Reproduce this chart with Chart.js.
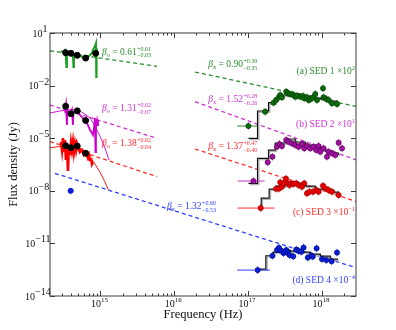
<!DOCTYPE html>
<html lang="en">
<head>
<meta charset="UTF-8">
<title>GRB SEDs</title>
<script src="https://cdn.jsdelivr.net/npm/chart.js"></script>
<style>
  body { margin: 0; background: #fff; }
  #chart { display: block; }
</style>
</head>
<body>
<canvas id="chart" width="396" height="330"></canvas>
<script>
// every value is log10(frequency / Hz) or log10(flux density / Jy)

// SED 1 (x 10^2, green)
const sed1SpecNu = [14.464, 14.491, 14.518, 14.532, 14.539, 14.545, 14.573, 14.600, 14.627, 14.634, 14.640, 14.681, 14.722, 14.763, 14.803, 14.830, 14.858, 14.885, 14.898, 14.912, 14.925, 14.939, 14.943, 14.947, 14.953];
const sed1SpecF = [-0.03, -0.08, 0.03, -0.43, -0.94, -0.08, -0.14, -0.08, -0.20, -0.94, -0.20, -0.26, -0.31, -0.37, -0.43, -0.37, -0.26, -0.14, 0.03, 0.14, 0.26, 0.43, -1.51, 0.14, -0.08];
const sed1PhotNu = [14.528, 14.600, 14.685, 14.799, 14.935];
const sed1PhotF = [-0.12, -0.16, -0.27, -0.43, -0.16];
const sed1OptFitNu = [14.315, 15.767];
const sed1OptFitF = [-0.01, -0.90];
const sed1XFitNu = [16.282, 18.46];
const sed1XFitF = [-1.225, -3.185];
const sed1XrayNu = [17.005, 17.232, 17.345, 17.381, 17.422, 17.436, 17.459, 17.517, 17.535, 17.562, 17.594, 17.616, 17.639, 17.662, 17.707, 17.744, 17.761, 17.798, 17.820, 17.843, 17.874, 17.911, 17.934, 18.015, 18.023, 18.060, 18.091, 18.137, 18.205];
const sed1XrayF = [-4.306, -3.490, -2.977, -2.822, -2.634, -2.537, -2.668, -2.349, -2.440, -2.480, -2.497, -2.537, -2.634, -2.577, -2.634, -2.594, -2.725, -2.668, -2.822, -2.782, -2.691, -2.480, -2.822, -2.155, -2.668, -2.765, -2.822, -3.011, -3.051];
const sed1XrayBinNu = [16.852, 17.124];
const sed1ModelNu = [17.005, 17.128, 17.277, 17.368, 17.463, 17.571, 17.707, 17.843, 17.979, 18.114, 18.209];
const sed1ModelF = [-5.007, -3.450, -2.976, -2.708, -2.537, -2.480, -2.594, -2.708, -2.765, -2.879, -3.050];

// SED 2 (x 10^1, magenta)
const sed2SpecNu = [14.505, 14.518, 14.532, 14.545, 14.552, 14.573, 14.600, 14.613, 14.627, 14.634, 14.654, 14.695, 14.722, 14.749, 14.776, 14.803, 14.830, 14.858, 14.885, 14.898, 14.912, 14.925, 14.932, 14.939, 14.953, 14.966];
const sed2SpecF = [-3.165, -3.393, -3.051, -4.249, -3.393, -3.564, -3.564, -3.393, -4.249, -3.507, -3.450, -3.507, -3.678, -3.792, -3.963, -4.077, -4.249, -4.534, -4.705, -4.819, -4.420, -3.849, -5.789, -4.249, -3.963, -4.306];
const sed2PhotNu = [14.528, 14.600, 14.685, 14.799];
const sed2PhotF = [-3.18, -3.60, -3.44, -3.99];
const sed2HostNu = [14.315, 14.450, 14.586, 14.695, 14.790, 14.858, 14.925, 14.993, 15.061, 15.115];
const sed2HostF = [-3.564, -3.450, -3.364, -3.393, -3.621, -3.849, -4.306, -4.877, -5.561, -6.245];
const sed2OptFitNu = [14.315, 15.767];
const sed2OptFitF = [-3.107, -5.009];
const sed2XFitNu = [16.282, 18.46];
const sed2XFitF = [-2.919, -6.23];
const sed2XrayNu = [17.073, 17.266, 17.330, 17.391, 17.426, 17.459, 17.517, 17.548, 17.594, 17.639, 17.684, 17.730, 17.761, 17.798, 17.843, 17.888, 17.924, 17.955, 17.978, 18.023, 18.069, 18.091, 18.137, 18.182, 18.227, 18.273];
const sed2XrayF = [-7.443, -6.371, -6.057, -5.487, -5.332, -5.447, -5.104, -5.201, -5.293, -5.389, -5.487, -5.332, -5.578, -5.447, -5.578, -5.487, -5.675, -5.447, -5.772, -5.578, -6.057, -5.772, -5.864, -5.960, -5.258, -5.578];
const sed2XrayBinNu = [16.862, 17.223];
const sed2ModelNu = [17.005, 17.128, 17.277, 17.368, 17.504, 17.639, 17.775, 17.911, 18.046, 18.155, 18.223];
const sed2ModelF = [-7.575, -6.148, -5.675, -5.275, -5.047, -5.218, -5.389, -5.561, -5.732, -5.846, -5.960];

// SED 3 (x 10^-1, red)
const sed3SpecNu = [14.464, 14.478, 14.491, 14.505, 14.518, 14.532, 14.545, 14.559, 14.573, 14.586, 14.600, 14.613, 14.627, 14.640, 14.654, 14.668, 14.681, 14.708, 14.722, 14.749, 14.776, 14.803, 14.830, 14.844, 14.858, 14.871, 14.885, 14.898];
const sed3SpecF = [-5.218, -5.675, -4.990, -5.789, -5.104, -6.245, -5.275, -6.873, -5.389, -5.960, -5.275, -5.675, -5.218, -5.789, -5.332, -5.675, -5.275, -5.561, -5.789, -5.675, -5.960, -5.846, -6.131, -5.960, -6.245, -6.131, -6.473, -6.359];
const sed3PhotNu = [14.528, 14.600, 14.685, 14.799];
const sed3PhotF = [-5.43, -5.54, -5.45, -5.86];
const sed3HostNu = [14.315, 14.450, 14.586, 14.695, 14.790, 14.858, 14.925, 14.993, 15.061, 15.109];
const sed3HostF = [-5.544, -5.475, -5.447, -5.504, -5.732, -6.074, -6.473, -6.930, -7.500, -7.957];
const sed3OptFitNu = [14.315, 15.767];
const sed3OptFitF = [-5.189, -7.193];
const sed3XFitNu = [16.282, 18.46];
const sed3XFitF = [-5.617, -8.601];
const sed3XrayNu = [17.171, 17.379, 17.417, 17.436, 17.459, 17.481, 17.513, 17.535, 17.562, 17.585, 17.616, 17.653, 17.684, 17.730, 17.761, 17.798, 17.833, 17.879, 17.924, 17.955, 18.015, 18.046, 18.091, 18.137, 18.227];
const sed3XrayF = [-8.984, -7.883, -7.877, -7.518, -7.769, -7.575, -7.306, -7.575, -7.672, -7.575, -7.615, -7.575, -7.672, -7.769, -7.575, -8.145, -8.054, -8.054, -7.957, -8.054, -7.712, -7.860, -7.957, -8.054, -8.242];
const sed3XrayBinNu = [16.859, 17.357];
const sed3ModelNu = [17.137, 17.178, 17.286, 17.381, 17.504, 17.639, 17.775, 17.911, 18.046, 18.155, 18.223];
const sed3ModelF = [-8.984, -8.413, -7.900, -7.729, -7.500, -7.557, -7.729, -7.900, -7.957, -8.071, -8.242];

// SED 4 (x 10^-4, blue)
const sed4PhotNu = [14.596];
const sed4PhotF = [-8.0];
const sed4XFitNu = [14.383, 18.46];
const sed4XFitF = [-7.003, -12.385];
const sed4XrayNu = [17.130, 17.330, 17.391, 17.418, 17.446, 17.481, 17.517, 17.541, 17.562, 17.612, 17.653, 17.684, 17.721, 17.752, 17.809, 17.857, 17.877, 17.928, 18.001, 18.060, 18.132, 18.205];
const sed4XrayF = [-12.521, -11.705, -11.380, -11.255, -11.408, -11.551, -11.380, -11.551, -11.665, -11.739, -11.357, -11.426, -11.477, -11.237, -11.808, -11.694, -11.751, -11.283, -11.893, -11.950, -12.019, -11.523];
const sed4XrayBinNu = [16.852, 17.296];
const sed4ModelNu = [17.137, 17.241, 17.341, 17.436, 17.571, 17.707, 17.843, 17.979, 18.114, 18.209];
const sed4ModelF = [-12.464, -11.705, -11.494, -11.380, -11.437, -11.494, -11.608, -11.722, -11.893, -11.950];

// axis ticks (exponents)
const xTickExps = [15, 16, 17, 18];
const yTickExps = [1, -2, -5, -8, -11, -14];

const serif = '"Liberation Serif", "DejaVu Serif", serif';

const pts = (lx, ly) => lx.map((v, i) => ({ x: Math.pow(10, v), y: Math.pow(10, ly[i]) }));

function dashedLine(lx, ly, color) {
    return { data: pts(lx, ly), showLine: true, borderColor: color, borderWidth: 1.3, borderDash: [4, 3], pointRadius: 0, order: 7 };
}
function spectrum(lx, ly, color, width) {
    return { data: pts(lx, ly), showLine: true, borderColor: color, borderWidth: width, pointRadius: 0, order: 6 };
}
function hostModel(lx, ly, color) {
    return { data: pts(lx, ly), showLine: true, borderColor: color, borderWidth: 0.9, pointRadius: 0, order: 5 };
}
function stepModel(lx, ly) {
    return [
        { data: pts(lx, ly), showLine: true, stepped: true, borderColor: '#b5b5b5', borderWidth: 1.4, pointRadius: 0, order: 4, shift: true },
        { data: pts(lx, ly), showLine: true, stepped: true, borderColor: '#111', borderWidth: 1.2, pointRadius: 0, order: 3 }
    ];
}
function binBar(lx, ly, color) {
    return { data: pts(lx, [ly, ly]), showLine: true, borderColor: color, borderWidth: 1, pointRadius: 0, order: 2 };
}
function xray(lx, ly, fill, edge, err) {
    return { data: pts(lx, ly), backgroundColor: fill, borderColor: edge, borderWidth: 0.7, pointRadius: 2.6, errDex: 0.22, errColor: err, order: 1 };
}
function photDots(lx, ly, color) {
    return { data: pts(lx, ly), backgroundColor: color, borderColor: color, pointRadius: 3, order: 0 };
}

const G = { line: '#2a8c2a', spec: '#1e9e1e', fill: '#0b6b0b', edge: '#053d05' };
const M = { line: '#d030d0', spec: '#cc00cc', fill: '#a010a0', edge: '#560056' };
const R = { line: '#ff2a2a', spec: '#ff0000', fill: '#ee0000', edge: '#900000' };
const B = { line: '#2f3fff', spec: '#0000ff', fill: '#0a1ed8', edge: '#000a80' };

const datasets = [
    dashedLine(sed1OptFitNu, sed1OptFitF, G.line),
    dashedLine(sed1XFitNu, sed1XFitF, G.line),
    dashedLine(sed2OptFitNu, sed2OptFitF, M.line),
    dashedLine(sed2XFitNu, sed2XFitF, M.line),
    dashedLine(sed3OptFitNu, sed3OptFitF, R.line),
    dashedLine(sed3XFitNu, sed3XFitF, R.line),
    dashedLine(sed4XFitNu, sed4XFitF, B.line),
    spectrum(sed1SpecNu, sed1SpecF, G.spec, 2),
    spectrum(sed2SpecNu, sed2SpecF, M.spec, 1.8),
    spectrum(sed3SpecNu, sed3SpecF, R.spec, 2.6),
    hostModel(sed2HostNu, sed2HostF, M.spec),
    hostModel(sed3HostNu, sed3HostF, R.spec),
    ...stepModel(sed1ModelNu, sed1ModelF),
    ...stepModel(sed2ModelNu, sed2ModelF),
    ...stepModel(sed3ModelNu, sed3ModelF),
    ...stepModel(sed4ModelNu, sed4ModelF),
    binBar(sed1XrayBinNu, sed1XrayF[0], G.line),
    binBar(sed2XrayBinNu, sed2XrayF[0], M.line),
    binBar(sed3XrayBinNu, sed3XrayF[0], R.line),
    binBar(sed4XrayBinNu, sed4XrayF[0], B.line),
    xray(sed1XrayNu, sed1XrayF, G.fill, G.edge, G.line),
    xray(sed2XrayNu, sed2XrayF, M.fill, M.edge, M.line),
    xray(sed3XrayNu, sed3XrayF, R.fill, R.edge, R.line),
    xray(sed4XrayNu, sed4XrayF, B.fill, B.edge, B.line),
    photDots(sed1PhotNu, sed1PhotF, '#000'),
    photDots(sed2PhotNu, sed2PhotF, '#000'),
    photDots(sed3PhotNu, sed3PhotF, '#000'),
    { ...photDots(sed4PhotNu, sed4PhotF, '#0a1ed8'), pointRadius: 2.6 }
];

// text notes, placed in data coordinates (log10 nu, log10 F)
const betaNotes = [
    { at: [15.02, -0.08], sub: 'o', val: '0.61', up: '+0.01', dn: '\u22120.03', color: G.line },
    { at: [15.02, -3.28], sub: 'o', val: '1.31', up: '+0.02', dn: '\u22120.07', color: M.line },
    { at: [15.02, -5.28], sub: 'o', val: '1.38', up: '+0.02', dn: '\u22120.04', color: R.line },
    { at: [16.46, -0.77], sub: 'x', val: '0.90', up: '+0.39', dn: '\u22120.35', color: G.line },
    { at: [16.46, -2.77], sub: 'x', val: '1.52', up: '+0.28', dn: '\u22120.26', color: M.line },
    { at: [16.46, -5.45], sub: 'x', val: '1.37', up: '+0.47', dn: '\u22120.40', color: R.line },
    { at: [15.90, -8.87], sub: 'x', val: '1.32', up: '+0.60', dn: '\u22120.53', color: B.line }
];
const sedNotes = [
    { at: [18.45, -1.17], text: '(a) SED 1 \u00d710', exp: '2', color: G.line },
    { at: [18.45, -4.19], text: '(b) SED 2 \u00d710', exp: '1', color: M.line },
    { at: [18.45, -9.21], text: '(c) SED 3 \u00d710', exp: '\u22121', color: R.line },
    { at: [18.45, -13.11], text: '(d) SED 4 \u00d710', exp: '\u22124', color: B.line }
];

function expText(v) {
    return v < 0 ? '\u2212' + Math.abs(v) : String(v);
}

const shiftPlugin = {
    id: 'shift',
    beforeDatasetDraw(chart, args) {
        if (chart.data.datasets[args.index].shift) {
            chart.ctx.save();
            chart.ctx.translate(1.3, 1.3);
        }
    },
    afterDatasetDraw(chart, args) {
        if (chart.data.datasets[args.index].shift) chart.ctx.restore();
    }
};

const decorPlugin = {
    id: 'decor',
    beforeDatasetsDraw(chart) {
        // vertical error bars of the X-ray points
        const { ctx, scales: { x, y } } = chart;
        ctx.save();
        chart.data.datasets.forEach(ds => {
            if (!ds.errDex) return;
            ctx.strokeStyle = ds.errColor;
            ctx.lineWidth = 0.8;
            const f = Math.pow(10, ds.errDex);
            ds.data.forEach(p => {
                const px = x.getPixelForValue(p.x);
                ctx.beginPath();
                ctx.moveTo(px, y.getPixelForValue(p.y * f));
                ctx.lineTo(px, y.getPixelForValue(p.y / f));
                ctx.stroke();
            });
        });
        ctx.restore();
    },
    afterDraw(chart) {
        const { ctx, chartArea: a, scales: { x, y } } = chart;
        ctx.save();
        ctx.strokeStyle = '#3a3a3a';
        ctx.lineWidth = 1;
        ctx.strokeRect(a.left, a.top, a.right - a.left, a.bottom - a.top);

        // x ticks, inside, bottom and top
        for (let n = 14; n <= 18; n++) {
            for (let k = 1; k <= 9; k++) {
                const v = k * Math.pow(10, n);
                if (v < x.min || v > x.max) continue;
                const px = Math.round(x.getPixelForValue(v)) + 0.5;
                const len = k === 1 ? 5 : 2.5;
                ctx.beginPath();
                ctx.moveTo(px, a.bottom); ctx.lineTo(px, a.bottom - len);
                ctx.moveTo(px, a.top); ctx.lineTo(px, a.top + len);
                ctx.stroke();
            }
        }
        // y ticks, inside, left and right
        yTickExps.forEach(e => {
            const py = Math.round(y.getPixelForValue(Math.pow(10, e))) + 0.5;
            ctx.beginPath();
            ctx.moveTo(a.left, py); ctx.lineTo(a.left + 5, py);
            ctx.moveTo(a.right, py); ctx.lineTo(a.right - 5, py);
            ctx.stroke();
        });

        // tick labels
        ctx.fillStyle = '#111';
        ctx.textBaseline = 'alphabetic';
        ctx.textAlign = 'left';
        const baseFont = '10px ' + serif, expFont = '7px ' + serif;
        const measure = (t, f) => { ctx.font = f; return ctx.measureText(t).width; };
        yTickExps.forEach(e => {
            const py = y.getPixelForValue(Math.pow(10, e));
            const et = expText(e);
            const w = measure('10', baseFont) + measure(et, expFont);
            const x0 = a.left - 4 - w;
            ctx.font = baseFont; ctx.fillText('10', x0, py + 3.5);
            ctx.font = expFont; ctx.fillText(et, x0 + measure('10', baseFont), py - 1);
        });
        xTickExps.forEach(e => {
            const px = x.getPixelForValue(Math.pow(10, e));
            const et = expText(e);
            const w10 = measure('10', baseFont);
            const x0 = px - w10 + 0.5;
            ctx.font = baseFont; ctx.fillText('10', x0, a.bottom + 10.5);
            ctx.font = expFont; ctx.fillText(et, x0 + w10, a.bottom + 5.5);
        });

        // axis titles
        ctx.font = '12.5px ' + serif;
        ctx.textAlign = 'center';
        ctx.fillText('Frequency (Hz)', (a.left + a.right) / 2, a.bottom + 22);
        ctx.save();
        ctx.translate(17, (a.top + a.bottom) / 2);
        ctx.rotate(-Math.PI / 2);
        ctx.fillText('Flux density (Jy)', 0, 0);
        ctx.restore();

        // beta annotations
        ctx.textAlign = 'left';
        betaNotes.forEach(n => {
            let cx = x.getPixelForValue(Math.pow(10, n.at[0]));
            const cy = y.getPixelForValue(Math.pow(10, n.at[1])) + 3;
            ctx.fillStyle = n.color;
            ctx.font = 'italic 9.5px ' + serif;
            ctx.fillText('\u03b2', cx, cy); cx += ctx.measureText('\u03b2').width;
            ctx.font = '6.5px ' + serif;
            ctx.fillText(n.sub, cx, cy + 2); cx += ctx.measureText(n.sub).width;
            ctx.font = '9.5px ' + serif;
            const t = ' = ' + n.val;
            ctx.fillText(t, cx, cy); cx += ctx.measureText(t).width + 0.5;
            ctx.font = '6px ' + serif;
            ctx.fillText(n.up, cx, cy - 4);
            ctx.fillText(n.dn, cx, cy + 2.5);
        });

        // SED labels, right aligned
        sedNotes.forEach(n => {
            const rx = x.getPixelForValue(Math.pow(10, n.at[0]));
            const cy = y.getPixelForValue(Math.pow(10, n.at[1])) + 3;
            const wt = measure(n.text, '9.5px ' + serif), we = measure(n.exp, '6.5px ' + serif);
            const x0 = rx - wt - we;
            ctx.fillStyle = n.color;
            ctx.font = '9.5px ' + serif; ctx.fillText(n.text, x0, cy);
            ctx.font = '6.5px ' + serif; ctx.fillText(n.exp, x0 + wt, cy - 4);
        });
        ctx.restore();
    }
};

new Chart(document.getElementById('chart'), {
    type: 'scatter',
    data: { datasets },
    options: {
        responsive: false,
        animation: false,
        devicePixelRatio: 1,
        layout: { padding: { left: 50, right: 40, top: 33, bottom: 34 } },
        plugins: { legend: { display: false }, tooltip: { enabled: false } },
        elements: { line: { tension: 0 } },
        scales: {
            x: { type: 'logarithmic', min: 2.07e14, max: 2.9e18, display: false },
            y: { type: 'logarithmic', min: 1e-14, max: 10, display: false }
        }
    },
    plugins: [shiftPlugin, decorPlugin]
});
</script>
</body>
</html>
